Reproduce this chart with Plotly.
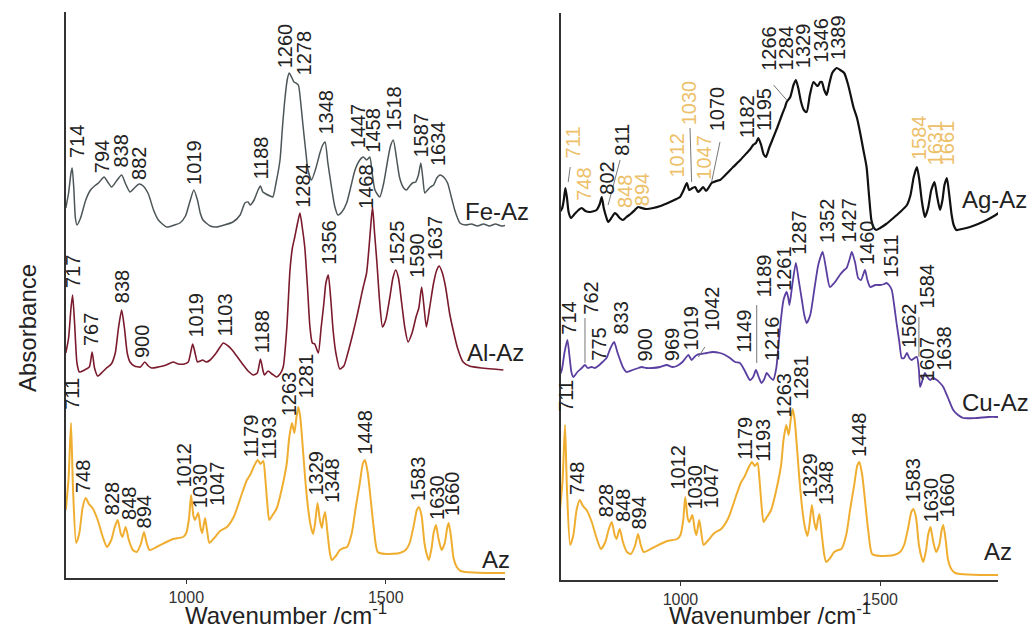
import plotly.graph_objects as go

FONT = "Liberation Sans, Arial, sans-serif"

# ---------------- spectra (wavenumber cm-1, absorbance a.u. as displayed, stacked) ----------------
AZ = [(698,68),(705,100),(711,155),(716,90),(724,35),(732,45),(740,70),(748,80),(756,74),(765,70),
      (778,58),(790,42),(801,31),(812,38),(820,50),(828,58),(836,44),(840,41),(848,51),(856,38),
      (866,28),(876,26),(886,34),(894,46),(900,36),(908,28),(930,32),(950,36),(967,39),(992,41),
      (1000,45),(1007,60),(1012,83),(1018,62),(1022,58),(1030,65),(1036,50),(1040,45),(1047,60),
      (1052,48),(1058,35),(1070,40),(1085,47),(1102,51),(1120,62),(1140,85),(1152,98),(1160,103),
      (1170,112),(1179,118),(1186,114),(1193,117),(1198,100),(1203,75),(1208,58),(1215,62),(1227,70),
      (1240,90),(1252,115),(1258,140),(1265,155),(1271,145),(1276,160),(1281,171),(1286,160),
      (1292,131),(1298,100),(1305,71),(1312,52),(1318,44),(1323,55),(1329,75),(1335,58),(1340,50),
      (1344,60),(1348,66),(1354,45),(1360,25),(1365,18),(1375,22),(1385,28),(1395,30),(1403,31),
      (1415,45),(1425,71),(1435,95),(1443,115),(1448,118),(1455,105),(1462,80),(1470,50),(1480,26),
      (1500,24),(1535,25),(1550,28),(1560,35),(1570,52),(1578,68),(1583,71),(1590,62),(1597,35),
      (1604,22),(1608,18),(1615,30),(1620,45),(1626,53),(1632,40),(1640,28),(1648,35),(1654,50),
      (1658,55),(1664,40),(1670,20),(1678,11),(1688,7),(1700,6),(1750,5),(1800,5)]

AL_AZ = [(698,225),(705,240),(711,270),(715,283),(720,255),(726,215),(732,206),(745,208),(757,211),
         (764,226),(770,210),(778,202),(790,206),(800,210),(812,214),(822,225),(830,250),(838,268),
         (845,250),(852,225),(859,216),(870,212),(885,211),(896,216),(905,212),(913,210),(930,211),
         (950,213),(967,216),(980,214),(995,214),(1005,216),(1016,234),(1022,225),(1028,216),
         (1035,217),(1041,218),(1050,216),(1060,218),(1075,225),(1093,235),(1105,232),(1115,228),
         (1130,220),(1143,213),(1155,207),(1168,203),(1178,205),(1186,219),(1192,208),(1196,203),
         (1205,207),(1215,204),(1226,201),(1235,204),(1243,211),(1252,250),(1260,308),(1266,330),
         (1272,341),(1279,355),(1285,365),(1291,350),(1297,331),(1304,290),(1310,251),(1316,235),
         (1322,234),(1331,225),(1338,250),(1345,275),(1350,295),(1356,303),(1362,280),(1368,248),
         (1375,225),(1385,209),(1395,212),(1405,225),(1418,245),(1428,262),(1435,275),(1443,290),
         (1452,305),(1458,330),(1463,355),(1467,371),(1472,345),(1478,315),(1485,275),(1492,251),
         (1500,258),(1510,280),(1518,300),(1525,308),(1532,300),(1540,275),(1548,250),(1556,236),
         (1566,245),(1576,261),(1583,270),(1590,291),(1595,275),(1602,251),(1610,270),(1620,295),
         (1628,308),(1634,312),(1642,305),(1650,291),(1660,265),(1669,248),(1680,230),(1694,216),
         (1710,212),(1740,210),(1770,209),(1795,208)]

FE_AZ = [(698,370),(705,385),(711,405),(714,410),(718,390),(722,360),(726,353),(735,360),(748,378),
         (760,388),(770,392),(780,395),(794,401),(803,396),(813,391),(825,397),(838,403),(848,394),
         (859,386),(870,390),(882,394),(892,392),(905,384),(918,368),(930,358),(951,351),(970,353),
         (984,355),(998,362),(1008,375),(1019,388),(1028,378),(1035,365),(1042,358),(1060,352),
         (1076,351),(1095,353),(1117,356),(1135,363),(1147,375),(1155,376),(1160,373),(1170,378),
         (1180,388),(1186,392),(1192,386),(1200,384),(1210,382),(1217,381),(1225,395),(1235,418),
         (1241,450),(1247,478),(1253,498),(1258,505),(1265,500),(1270,496),(1275,495),(1281,493),
         (1287,475),(1293,451),(1300,425),(1305,408),(1314,398),(1325,410),(1335,425),(1342,433),
         (1348,436),(1355,415),(1364,391),(1372,372),(1380,363),(1390,366),(1402,375),(1413,392),
         (1423,408),(1435,418),(1444,421),(1452,418),(1460,421),(1466,405),(1473,388),(1485,381),
         (1495,395),(1505,418),(1512,432),(1519,438),(1527,420),(1535,400),(1545,390),(1552,388),
         (1560,392),(1567,395),(1575,396),(1582,403),(1588,415),(1593,400),(1598,385),(1605,388),
         (1612,391),(1620,393),(1628,400),(1636,403),(1645,401),(1655,395),(1665,380),(1673,368),
         (1680,360),(1686,355),(1700,353),(1715,354),(1730,352),(1745,354),(1760,352),(1775,354),
         (1790,352),(1803,353)]

CU_AZ = [(698,205),(703,210),(710,228),(717,240),(722,225),(727,208),(732,203),(742,208),(753,212),
         (761,215),(768,212),(778,213),(786,212),(794,214),(805,218),(815,222),(825,232),(834,238),
         (842,228),(849,220),(857,212),(865,208),(880,210),(895,212),(903,213),(915,212),(930,212),
         (949,213),(966,215),(980,213),(991,214),(1005,218),(1013,222),(1020,225),(1028,220),
         (1035,223),(1041,225),(1050,226),(1066,227),(1080,228),(1099,227),(1112,225),(1124,222),
         (1137,218),(1149,217),(1160,210),(1174,200),(1182,203),(1189,210),(1196,203),(1203,197),
         (1210,201),(1216,207),(1224,203),(1232,200),(1240,212),(1245,233),(1252,262),(1258,280),
         (1266,288),(1270,282),(1273,275),(1280,295),(1289,317),(1296,300),(1304,280),(1310,265),
         (1316,257),(1325,265),(1335,290),(1345,315),(1356,328),(1365,310),(1374,293),(1385,297),
         (1399,305),(1410,310),(1416,312),(1423,320),(1429,328),(1437,318),(1445,302),(1452,300),
         (1462,310),(1468,300),(1475,293),(1488,295),(1500,295),(1510,296),(1516,297),(1522,295),
         (1529,290),(1535,275),(1541,257),(1548,238),(1554,222),(1560,222),(1567,227),(1573,222),
         (1579,220),(1586,222),(1592,223),(1597,210),(1600,193),(1606,200),(1612,207),(1618,203),
         (1625,200),(1632,202),(1642,200),(1650,197),(1658,193),(1670,182),(1683,170),(1695,165),
         (1708,162),(1740,162),(1770,163),(1800,163)]

AG_AZ = [(698,368),(704,372),(708,380),(712,392),(716,382),(720,368),(726,362),(735,366),(745,370),
         (753,372),(762,369),(774,368),(790,370),(798,376),(803,383),(808,372),(815,362),(819,358),
         (827,362),(836,367),(842,365),(848,362),(856,360),(865,363),(875,366),(886,370),(894,373),
         (903,372),(915,371),(932,372),(950,374),(974,378),(990,381),(999,383),(1008,390),(1016,397),
         (1022,390),(1030,392),(1037,393),(1044,388),(1050,390),(1057,393),(1064,389),(1070,392),
         (1078,397),(1090,399),(1099,400),(1115,406),(1132,413),(1150,420),(1166,427),(1175,431),
         (1182,435),(1189,437),(1195,442),(1202,435),(1208,426),(1214,423),(1222,432),(1230,440),
         (1242,452),(1254,465),(1262,473),(1266,478),(1275,483),(1283,495),(1289,500),(1295,492),
         (1302,478),(1309,470),(1316,468),(1324,485),(1333,498),(1340,495),(1344,494),(1350,498),
         (1354,498),(1360,490),(1366,485),(1372,495),(1380,507),(1391,512),(1400,510),(1410,507),
         (1420,495),(1433,473),(1442,462),(1450,447),(1458,430),(1466,413),(1472,385),(1478,360),
         (1483,353),(1490,350),(1500,352),(1515,356),(1533,362),(1550,368),(1567,375),(1576,385),
         (1584,403),(1592,413),(1598,400),(1604,380),(1608,370),(1612,363),(1620,372),(1628,390),
         (1636,398),(1642,385),(1650,370),(1656,380),(1661,395),(1667,402),(1673,385),(1679,365),
         (1684,355),(1691,350),(1705,351),(1725,353),(1745,356),(1767,360),(1785,364),(1800,368)]

# ---------------- peak labels: (text, wavenumber, absorbance at label foot) ----------------
AZ_PEAKS = [("711",713,166),("748",740,83),("828",813,61),("848",855,56),("894",894,48),
            ("1012",992,88),("1030",1034,68),("1047",1076,70),("1179",1160,118),("1193",1205,116),
            ("1263",1257,160),("1281",1300,178),("1329",1323,80),("1348",1364,73),("1448",1446,121),
            ("1583",1580,75),("1630",1627,56),("1660",1665,60)]
FE_PEAKS = [("714",725,418),("794",788,403),("838",834,408),("882",880,396),("1019",1018,391),
            ("1188",1185,396),("1260",1247,508),("1278",1295,501),("1348",1348,441),
            ("1447",1430,428),("1458",1466,423),("1518",1519,445),("1587",1586,418),("1634",1630,410)]
AL_PEAKS = [("717",715,288),("767",760,230),("838",838,273),("900",888,218),("1019",1022,238),
            ("1103",1097,240),("1188",1189,223),("1284",1291,368),("1356",1356,311),
            ("1468",1449,367),("1525",1527,311),("1590",1577,298),("1637",1623,316)]
CU_PEAKS = [("714",719,243),("762",774,263),("775",794,217),("833",849,243),("900",911,217),
            ("969",978,217),("1019",1024,227),("1042",1078,247),("1149",1157,225),("1189",1207,280),
            ("1216",1228,217),("1261",1258,287),("1287",1295,323),("1352",1366,335),("1427",1420,335),
            ("1460",1466,313),("1511",1525,300),("1562",1571,230),("1584",1615,269),("1607",1617,197),
            ("1638",1658,207)]
# Ag-Az: last field marks bands that coincide with free Az (drawn in the Az colour)
AG_PEAKS = [("711",732,420,True),("748",757,377,True),("802",814,383,False),("811",853,422,False),
            ("848",860,370,True),("894",903,372,True),("1012",989,400,True),("1030",1021,453,True),
            ("1047",1057,398,True),("1070",1091,447,False),("1182",1166,440,False),("1195",1208,447,False),
            ("1266",1220,507,False),("1284",1264,508,False),("1329",1306,510,False),("1346",1350,515,False),
            ("1389",1393,518,False),("1584",1596,418,True),("1631",1637,413,True),("1661",1667,413,True)]

# leader lines: (wn1, a1, wn2, a2)
AG_LEADERS = [(719,398,724,413),(849,420,819,375),(1024,452,1028,398),(1099,438,1078,398),(1233,495,1266,480)]
CU_LEADERS = [(761,262,761,217),(1061,233,1045,223),(1191,275,1191,217),(1597,263,1597,223)]

# sample name labels: (text, wavenumber of left edge, absorbance)
LEFT_NAMES = [("Fe-Az",1693,367),("Al-Az",1699,226),("Az",1736,19)]
RIGHT_NAMES = [("Ag-Az",1700,381),("Cu-Az",1700,178),("Az",1756,29)]

C_AZ = "#F0AE30"
C_AL = "#7A1A2C"
C_FE = "#4C5557"
C_CU = "#5A3FA0"
C_AG = "#111111"
C_AZLBL = "#EDC06A"
TXT = "#222222"

fig = go.Figure()

def add(series, color, width, xa, ya, name):
    fig.add_trace(go.Scatter(x=[p[0] for p in series], y=[p[1] for p in series], mode="lines",
                             line=dict(color=color, width=width, shape="spline", smoothing=0.6),
                             xaxis=xa, yaxis=ya, name=name, showlegend=False, hoverinfo="skip"))

add(FE_AZ, C_FE, 1.5, "x", "y", "Fe-Az")
add(AL_AZ, C_AL, 1.6, "x", "y", "Al-Az")
add(AZ, C_AZ, 2.0, "x", "y", "Az")
add(AG_AZ, C_AG, 2.2, "x2", "y2", "Ag-Az")
add(CU_AZ, C_CU, 1.8, "x2", "y2", "Cu-Az")
add(AZ, C_AZ, 2.0, "x2", "y2", "Az")

ann = []
def peaks(lst, xr, yr, color=TXT):
    for item in lst:
        col = color
        if len(item) == 4:
            col = C_AZLBL if item[3] else TXT
        ann.append(dict(text=item[0], x=item[1], y=item[2], xref=xr, yref=yr, showarrow=False,
                        textangle=-90, xanchor="center", yanchor="bottom",
                        font=dict(family=FONT, size=20, color=col)))

peaks(AZ_PEAKS, "x", "y")
peaks(FE_PEAKS, "x", "y")
peaks(AL_PEAKS, "x", "y")
peaks(AZ_PEAKS, "x2", "y2")
peaks(CU_PEAKS, "x2", "y2")
peaks(AG_PEAKS, "x2", "y2")

for lst, xr, yr in [(LEFT_NAMES, "x", "y"), (RIGHT_NAMES, "x2", "y2")]:
    for t, xw, ya in lst:
        ann.append(dict(text=t, x=xw, y=ya, xref=xr, yref=yr, showarrow=False,
                        xanchor="left", yanchor="middle", font=dict(family=FONT, size=24, color=TXT)))

ann.append(dict(text="Absorbance", x=27/1033, y=(632-328)/632, xref="paper", yref="paper",
                showarrow=False, textangle=-90, xanchor="center", yanchor="middle",
                font=dict(family=FONT, size=24, color=TXT)))
for xc in (286, 770):
    ann.append(dict(text="Wavenumber /cm<sup>-1</sup>", x=xc/1033, y=(632-614)/632, xref="paper",
                    yref="paper", showarrow=False, xanchor="center", yanchor="middle",
                    font=dict(family=FONT, size=24, color=TXT)))

shapes = []
for lst, xr, yr in [(AG_LEADERS, "x2", "y2"), (CU_LEADERS, "x2", "y2")]:
    for x0, y0, x1, y1 in lst:
        shapes.append(dict(type="line", xref=xr, yref=yr, x0=x0, y0=y0, x1=x1, y1=y1,
                           line=dict(color="#777777", width=1)))

axis_common = dict(showgrid=False, zeroline=False, showline=True, linecolor="#333333", linewidth=1.5,
                   ticks="outside", ticklen=4, tickwidth=1, tickcolor="#333333",
                   tickvals=[1000, 1500], ticktext=["1000", "1500"],
                   tickfont=dict(family=FONT, size=16, color="#333333"))
yaxis_common = dict(showgrid=False, zeroline=False, showline=True, linecolor="#333333", linewidth=1.5,
                    showticklabels=False, ticks="")

fig.update_layout(
    width=1033, height=632, margin=dict(l=0, r=0, t=0, b=0),
    paper_bgcolor="white", plot_bgcolor="white", showlegend=False,
    xaxis=dict(domain=[66/1033, 505/1033], range=[698.5, 1799], anchor="y", **axis_common),
    yaxis=dict(domain=[(632-578)/632, (632-12)/632], range=[0, 566], anchor="x", **yaxis_common),
    xaxis2=dict(domain=[561/1033, 998/1033], range=[701, 1795], anchor="y2", **axis_common),
    yaxis2=dict(domain=[(632-580)/632, (632-13)/632], range=[0, 567], anchor="x2", **yaxis_common),
    annotations=ann, shapes=shapes,
)

fig.write_html("out.html", config={"displayModeBar": False},
               post_script="document.body.style.margin='0';document.body.style.overflow='hidden';")
